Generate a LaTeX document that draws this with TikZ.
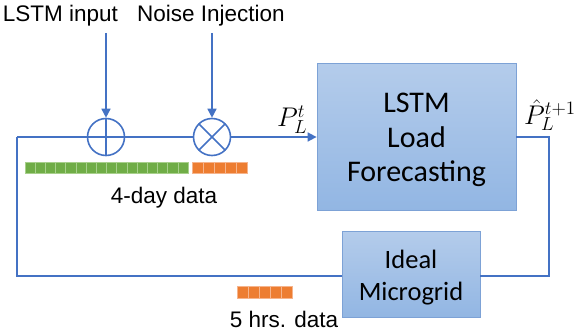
\RequirePackage{fix-cm}
\documentclass[tikz,border=0pt]{standalone}
\usepackage{fontspec}
\setmainfont{Liberation Sans}
\newfontfamily\calibri{Carlito}
\usetikzlibrary{arrows.meta,calc}
\definecolor{lineblue}{RGB}{68,114,196}
\definecolor{boxtop}{RGB}{180,204,235}
\definecolor{boxbot}{RGB}{146,182,227}
\definecolor{boxedge}{RGB}{125,162,214}
\definecolor{cgreen}{RGB}{112,173,71}
\definecolor{cgreenl}{RGB}{168,208,140}
\definecolor{corange}{RGB}{237,125,49}
\definecolor{corangel}{RGB}{246,180,140}
\tikzset{
  conn/.style={draw=lineblue, line width=1.6pt},
  arr/.style={conn, -{Triangle[length=9pt,width=9pt]}},
  blockbox/.style={rectangle, draw=boxedge, line width=0.8pt, top color=boxtop, bottom color=boxbot, inner sep=0pt},
  sumc/.style={circle, draw=lineblue, line width=1.6pt, minimum size=37pt, inner sep=0pt},
  lbl/.style={inner sep=0pt, anchor=base, font=\fontsize{22.5}{27}\selectfont},
  mlbl/.style={inner sep=0pt, anchor=base west, font=\fontsize{20}{24}\selectfont},
  gcell/.style={fill=cgreen, draw=cgreenl, line width=0.6pt},
  ocell/.style={fill=corange, draw=corangel, line width=0.6pt},
}
\begin{document}
\begin{tikzpicture}[x=1pt,y=-1pt]
\useasboundingbox (0,0) rectangle (583,331);
% labels on top
\node[lbl] (inp) at (60.5,22) {LSTM input};
\node[lbl] (noise) at (211,22) {Noise Injection};
% summing junctions
\node[sumc, path picture={\draw[lineblue,line width=1.6pt] (path picture bounding box.north) -- (path picture bounding box.south) (path picture bounding box.west) -- (path picture bounding box.east);}] (oplus) at (106,137) {};
\node[sumc, path picture={\draw[lineblue,line width=1.6pt] (path picture bounding box.north west) -- (path picture bounding box.south east) (path picture bounding box.south west) -- (path picture bounding box.north east);}] (otimes) at (212,137) {};
% blocks
\node[blockbox, minimum width=199pt, minimum height=147pt] (lstm) at (416.5,137) {};
\node[inner sep=0pt, align=center, font=\calibri\fontsize{30}{34.5}\selectfont] (lstmtxt) at ($(lstm.center)+(0,3)$) {LSTM\\Load\\Forecasting};
\node[blockbox, minimum width=138pt, minimum height=86pt] (mg) at (411,274) {};
\node[inner sep=0pt, align=center, font=\calibri\fontsize{26.5}{32.5}\selectfont] (mgtxt) at ($(mg.center)+(0,3.5)$) {Ideal\\Microgrid};
% corner coordinates
\coordinate (tl) at (17,137);
\coordinate (bl) at (17,276);
\coordinate (tr) at (549,137);
\coordinate (br) at (549,276);
\coordinate (inA) at (106,33);
\coordinate (noA) at (212,33);
% connectors
\draw[arr] (inA) -- (oplus.north);
\draw[arr] (noA) -- (otimes.north);
\draw[conn] (tl) -- (oplus.west);
\draw[conn] (oplus.east) -- (otimes.west);
\draw[arr] (otimes.east) -- (lstm.west);
\draw[conn] (lstm.east |- tr) -- (tr) -- (br) -- (br -| mg.east);
\draw[conn] (br -| mg.west) -- (bl) -- (tl);
% signal labels
\node[mlbl] (plt) at (277,127) {\scalebox{1.35}{$P_L^t$}};
\node[mlbl] (phat) at (524,125) {\scalebox{1.35}{$\hat{P}_L^{t+1}$}};
% data bars
\foreach \i in {0,...,15} \draw[gcell] ({25+\i*10.1875},162) rectangle ++(10.1875,11);
\foreach \i in {0,...,4} \draw[ocell] ({192+\i*11},162) rectangle ++(11,11);
\foreach \i in {0,...,4} \draw[ocell] ({237+\i*11},286) rectangle ++(11,12);
\node[lbl] (four) at (164,203) {4-day data};
\node[lbl] (five) at (284,327) {5 hrs. data};
\end{tikzpicture}
\end{document}
